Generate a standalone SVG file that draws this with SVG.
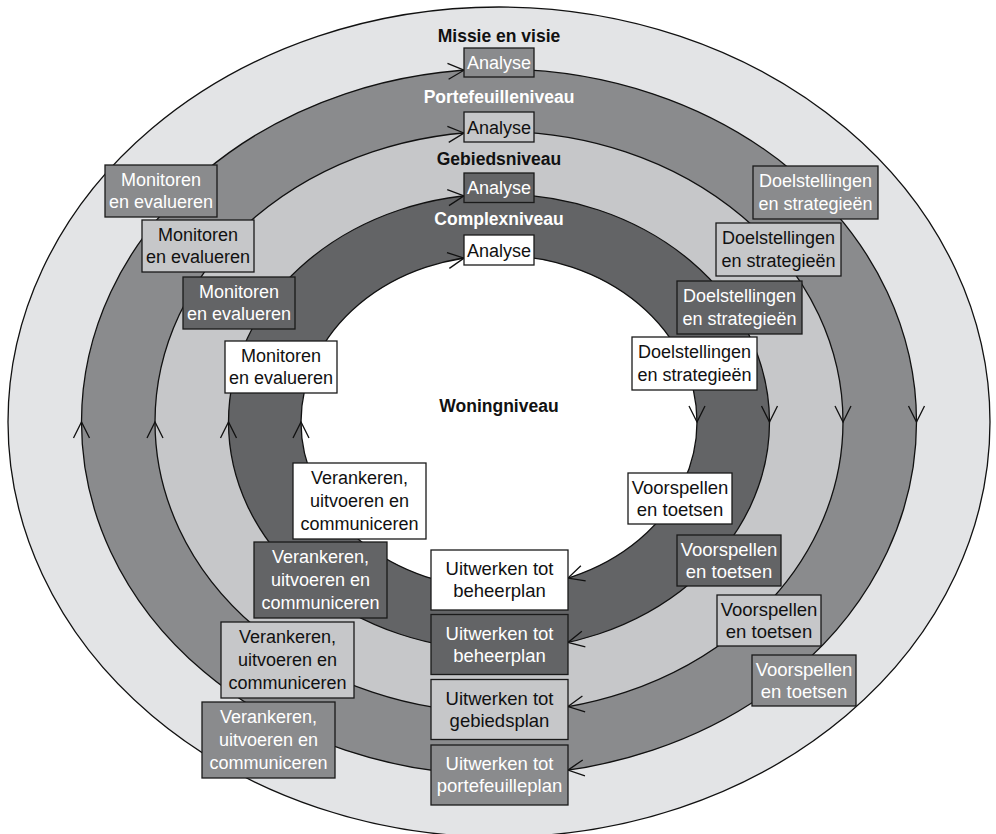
<svg xmlns="http://www.w3.org/2000/svg" width="996" height="834" viewBox="0 0 996 834">
  <defs>
    <style>
      .ring{stroke:#111;stroke-width:1.3}
      .r0{fill:#e3e4e6}.r1{fill:#8a8b8d}.r2{fill:#c6c7c9}.r3{fill:#636466}.r4{fill:#fff}
      .box{stroke:#1a1a1a;stroke-width:1.3}
      text{font-family:"Liberation Sans",Arial,sans-serif;text-anchor:middle}
      .t{font-size:18px}
      .tl{font-size:18.5px}
      .lvl{font-size:17.5px;font-weight:bold}
      .w{fill:#fff}.k{fill:#111}
      .head{fill:none;stroke:#111;stroke-width:1.3}
    </style>
    <!-- open chevron arrowhead, tip at origin, pointing along +x -->
    <path id="chev" class="head" d="M-16,-8 L0,0 L-16,8"/>
  </defs>

  <rect width="996" height="834" fill="#fff"/>

  <!-- nested planning cycles, outermost first -->
  <g id="rings">
    <ellipse class="ring r0" cx="499" cy="422" rx="491" ry="415"/>
    <ellipse class="ring r1" cx="499" cy="422" rx="417.5" ry="353"/>
    <ellipse class="ring r2" cx="499" cy="422" rx="344" ry="290.5"/>
    <ellipse class="ring r3" cx="499" cy="422" rx="270.5" ry="228"/>
    <ellipse class="ring r4" cx="499" cy="422" rx="198" ry="166.5"/>
  </g>

  <!-- clockwise direction markers on each cycle -->
  <g id="connectors">
    <use href="#chev" transform="translate(464,70.2) rotate(-4.05)"/>
    <use href="#chev" transform="translate(464,133) rotate(-4.9)"/>
    <use href="#chev" transform="translate(464,195.9) rotate(-6.2)"/>
    <use href="#chev" transform="translate(464,258.1) rotate(-8.5)"/>

    <use href="#chev" transform="translate(916.5,422) rotate(90)"/>
    <use href="#chev" transform="translate(843,422) rotate(90)"/>
    <use href="#chev" transform="translate(769.5,422) rotate(90)"/>
    <use href="#chev" transform="translate(697,422) rotate(90)"/>

    <use href="#chev" transform="translate(568,770.1) rotate(171.9)"/>
    <use href="#chev" transform="translate(568,706.6) rotate(170.2)"/>
    <use href="#chev" transform="translate(568,642.5) rotate(167.5)"/>
    <use href="#chev" transform="translate(568,578.1) rotate(162.6)"/>

    <use href="#chev" transform="translate(81.5,422) rotate(-90)"/>
    <use href="#chev" transform="translate(155,422) rotate(-90)"/>
    <use href="#chev" transform="translate(228.5,422) rotate(-90)"/>
    <use href="#chev" transform="translate(301,422) rotate(-90)"/>
  </g>

  <!-- level titles -->
  <g id="level-missie"><text class="lvl k" x="499" y="41.5">Missie en visie</text></g>
  <g id="level-portefeuille"><text class="lvl w" x="499" y="102.5">Portefeuilleniveau</text></g>
  <g id="level-gebied"><text class="lvl k" x="499" y="164.5">Gebiedsniveau</text></g>
  <g id="level-complex"><text class="lvl w" x="499" y="225">Complexniveau</text></g>
  <g id="level-woning"><text class="lvl k" x="499" y="412">Woningniveau</text></g>

  <!-- Analyse -->
  <g id="analyse-1"><rect class="box r1" x="464" y="48" width="70" height="29"/><text class="t w" x="499" y="69">Analyse</text></g>
  <g id="analyse-2"><rect class="box r2" x="464" y="112" width="70" height="30"/><text class="t k" x="499" y="133.5">Analyse</text></g>
  <g id="analyse-3"><rect class="box r3" x="464" y="173" width="70" height="29.5"/><text class="t w" x="499" y="194">Analyse</text></g>
  <g id="analyse-4"><rect class="box r4" x="464" y="235" width="70" height="30"/><text class="t k" x="499" y="256.5">Analyse</text></g>

  <!-- Doelstellingen en strategieën -->
  <g id="doel-1"><rect class="box r1" x="753" y="166" width="125" height="53"/><text class="t w" x="815.5" y="187">Doelstellingen</text><text class="t w" x="815.5" y="210">en strategieën</text></g>
  <g id="doel-2"><rect class="box r2" x="716" y="223" width="125" height="53"/><text class="t k" x="778.5" y="244">Doelstellingen</text><text class="t k" x="778.5" y="267">en strategieën</text></g>
  <g id="doel-3"><rect class="box r3" x="677" y="281" width="125" height="53"/><text class="t w" x="739.5" y="302">Doelstellingen</text><text class="t w" x="739.5" y="325">en strategieën</text></g>
  <g id="doel-4"><rect class="box r4" x="632" y="337" width="125" height="53"/><text class="t k" x="694.5" y="358">Doelstellingen</text><text class="t k" x="694.5" y="381">en strategieën</text></g>

  <!-- Voorspellen en toetsen -->
  <g id="voorspel-1"><rect class="box r4" x="628" y="473" width="104" height="51"/><text class="tl k" x="680" y="493.5">Voorspellen</text><text class="tl k" x="680" y="515.5">en toetsen</text></g>
  <g id="voorspel-2"><rect class="box r3" x="677" y="535" width="104" height="51"/><text class="tl w" x="729" y="555.5">Voorspellen</text><text class="tl w" x="729" y="577.5">en toetsen</text></g>
  <g id="voorspel-3"><rect class="box r2" x="717" y="595" width="104" height="51"/><text class="tl k" x="769" y="615.5">Voorspellen</text><text class="tl k" x="769" y="637.5">en toetsen</text></g>
  <g id="voorspel-4"><rect class="box r1" x="752" y="655" width="104" height="51"/><text class="tl w" x="804" y="675.5">Voorspellen</text><text class="tl w" x="804" y="697.5">en toetsen</text></g>

  <!-- Uitwerken -->
  <g id="uitwerk-1"><rect class="box r4" x="431" y="550" width="137" height="60"/><text class="tl k" x="499.5" y="575">Uitwerken tot</text><text class="tl k" x="499.5" y="597">beheerplan</text></g>
  <g id="uitwerk-2"><rect class="box r3" x="431" y="614.5" width="137" height="60"/><text class="tl w" x="499.5" y="639.5">Uitwerken tot</text><text class="tl w" x="499.5" y="661.5">beheerplan</text></g>
  <g id="uitwerk-3"><rect class="box r2" x="431" y="679.5" width="137" height="60"/><text class="tl k" x="499.5" y="704.5">Uitwerken tot</text><text class="tl k" x="499.5" y="726.5">gebiedsplan</text></g>
  <g id="uitwerk-4"><rect class="box r1" x="431" y="745" width="137" height="60"/><text class="tl w" x="499.5" y="770">Uitwerken tot</text><text class="tl w" x="499.5" y="792">portefeuilleplan</text></g>

  <!-- Verankeren, uitvoeren en communiceren -->
  <g id="veranker-1"><rect class="box r4" x="293" y="463" width="133" height="76"/><text class="t k" x="359.5" y="484">Verankeren,</text><text class="t k" x="359.5" y="507">uitvoeren en</text><text class="t k" x="359.5" y="530">communiceren</text></g>
  <g id="veranker-2"><rect class="box r3" x="254" y="542" width="133" height="76"/><text class="t w" x="320.5" y="563">Verankeren,</text><text class="t w" x="320.5" y="586">uitvoeren en</text><text class="t w" x="320.5" y="609">communiceren</text></g>
  <g id="veranker-3"><rect class="box r2" x="221" y="622" width="133" height="76"/><text class="t k" x="287.5" y="643">Verankeren,</text><text class="t k" x="287.5" y="666">uitvoeren en</text><text class="t k" x="287.5" y="689">communiceren</text></g>
  <g id="veranker-4"><rect class="box r1" x="202" y="702" width="133" height="76"/><text class="t w" x="268.5" y="723">Verankeren,</text><text class="t w" x="268.5" y="746">uitvoeren en</text><text class="t w" x="268.5" y="769">communiceren</text></g>

  <!-- Monitoren en evalueren -->
  <g id="monitor-1"><rect class="box r1" x="105" y="165" width="112" height="52"/><text class="t w" x="161" y="186">Monitoren</text><text class="t w" x="161" y="208">en evalueren</text></g>
  <g id="monitor-2"><rect class="box r2" x="142" y="220" width="112" height="52"/><text class="t k" x="198" y="241">Monitoren</text><text class="t k" x="198" y="263">en evalueren</text></g>
  <g id="monitor-3"><rect class="box r3" x="183" y="277" width="112" height="52"/><text class="t w" x="239" y="298">Monitoren</text><text class="t w" x="239" y="320">en evalueren</text></g>
  <g id="monitor-4"><rect class="box r4" x="225" y="341" width="112" height="52"/><text class="t k" x="281" y="362">Monitoren</text><text class="t k" x="281" y="384">en evalueren</text></g>
</svg>
